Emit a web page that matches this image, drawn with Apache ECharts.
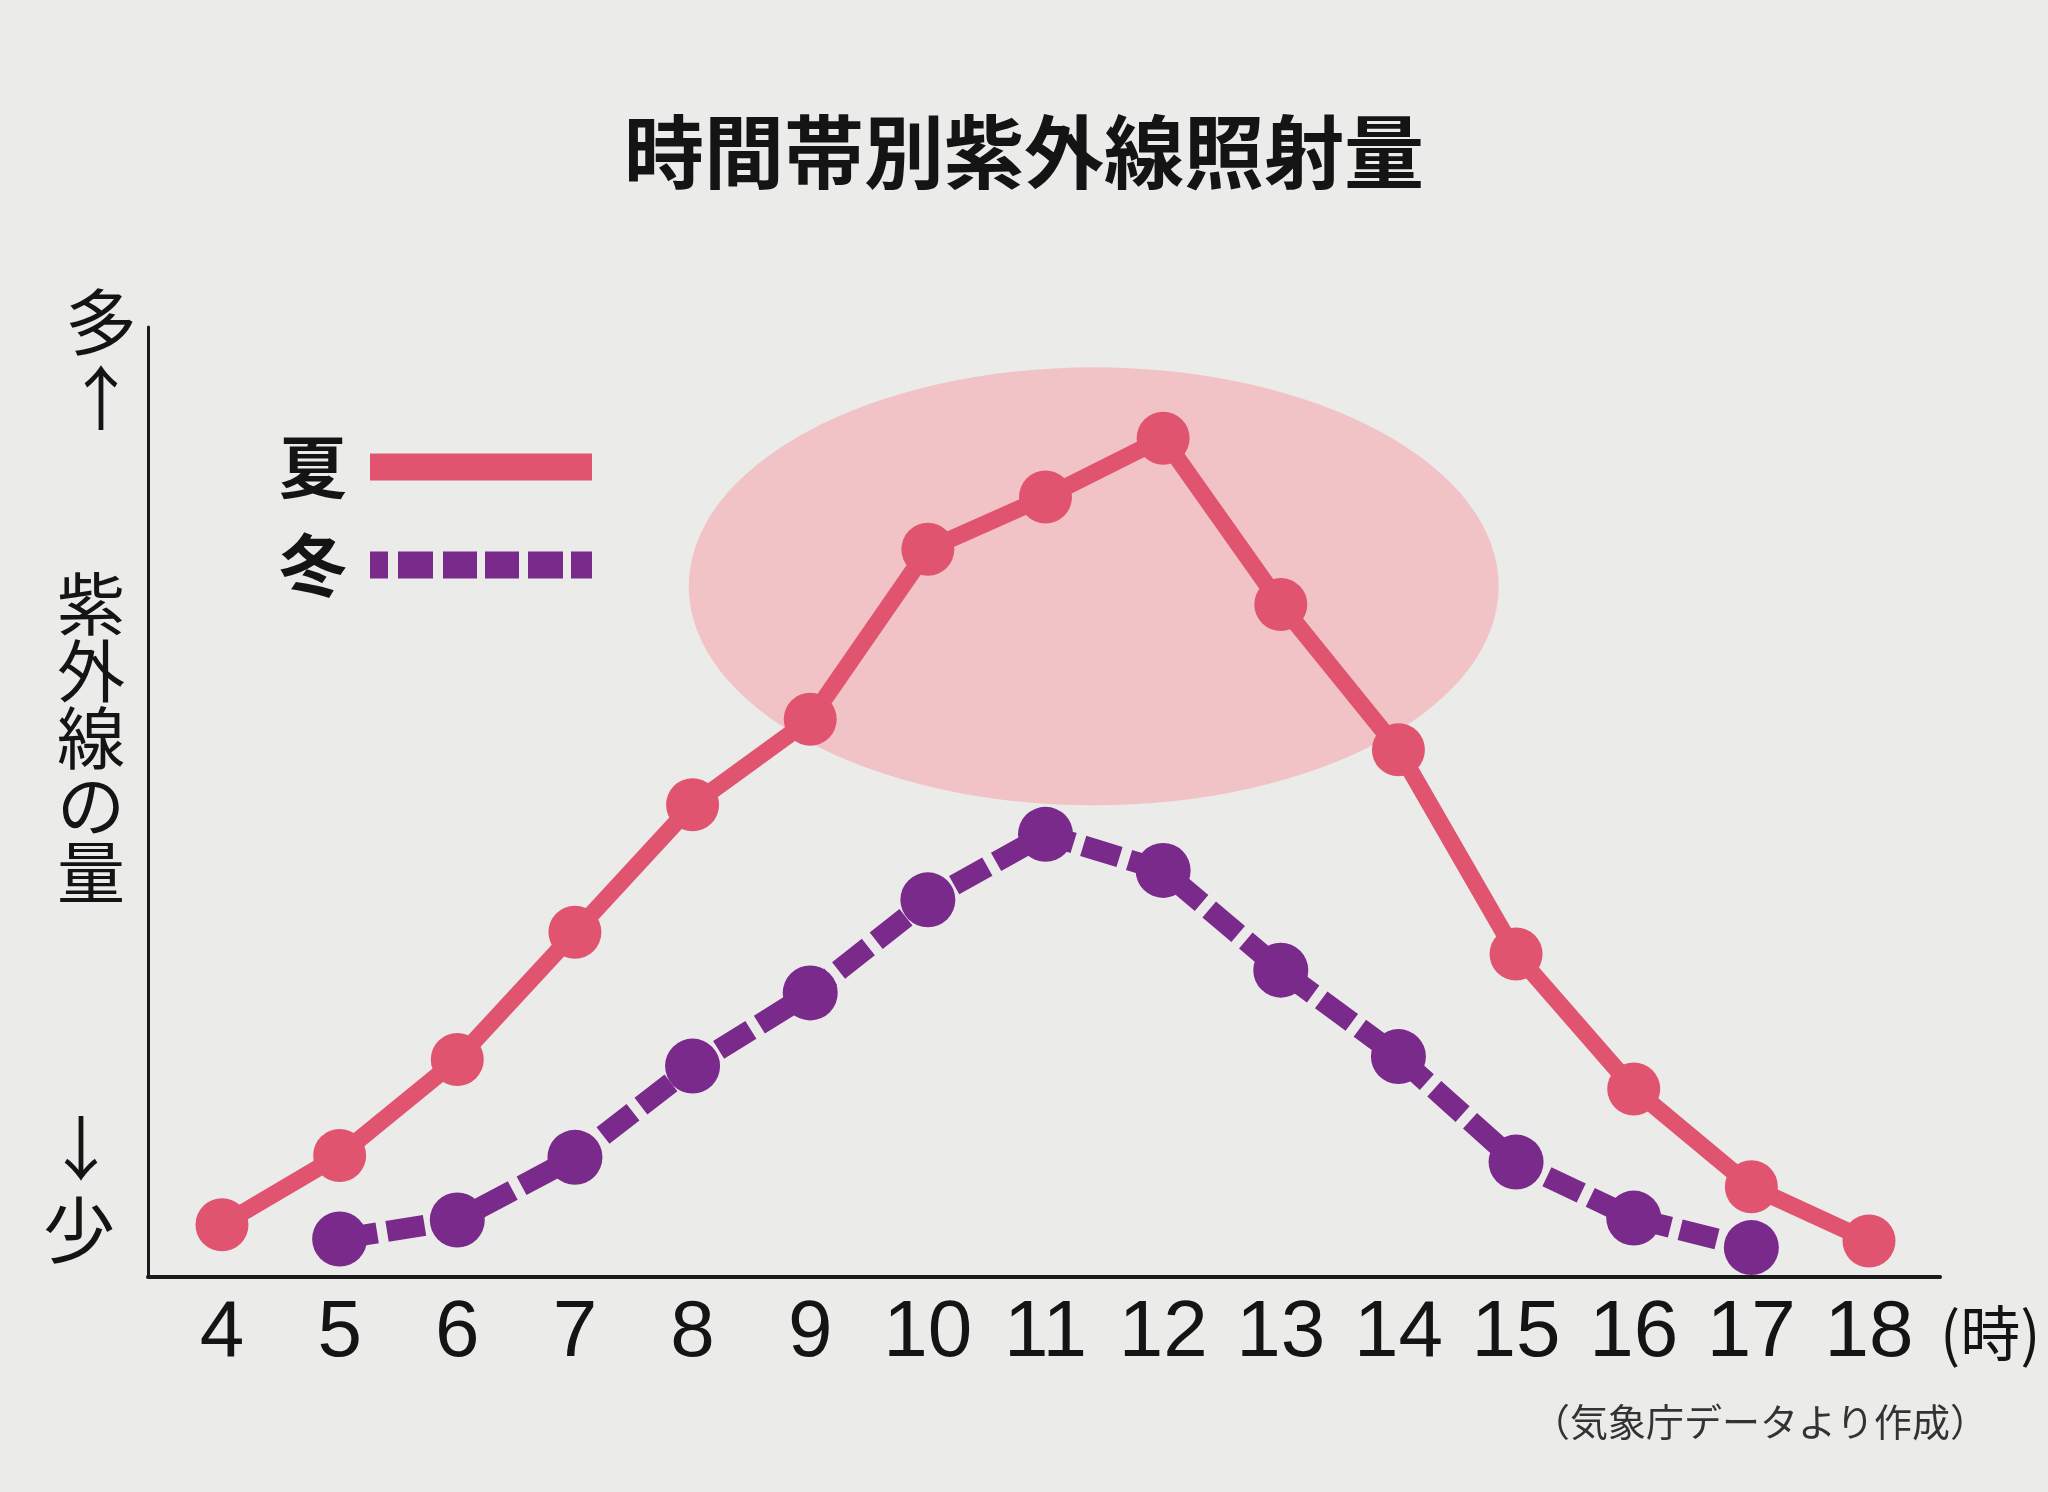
<!DOCTYPE html>
<html>
<head>
<meta charset="utf-8">
<script src="https://cdn.jsdelivr.net/npm/echarts@6/dist/echarts.min.js"></script>
<style>
html,body{margin:0;padding:0;background:#ebebe9;}
#chart{width:2048px;height:1492px;}
</style>
</head>
<body>
<div id="chart"></div>
<script>
// ---- data ----
const hours = [4, 5, 6, 7, 8, 9, 10, 11, 12, 13, 14, 15, 16, 17, 18];
const summerHours = [4, 5, 6, 7, 8, 9, 10, 11, 12, 13, 14, 15, 16, 17, 18];
const summerValues = [5.5, 12.8, 22.9, 36.3, 49.7, 58.7, 76.6, 82.1, 88.3, 70.8, 55.5, 34.0, 19.8, 9.5, 3.8];
const winterHours = [5, 6, 7, 8, 9, 10, 11, 12, 13, 14, 15, 16, 17];
const winterValues = [4.0, 6.0, 12.6, 22.2, 29.9, 39.7, 46.6, 42.8, 32.3, 23.2, 12.1, 6.2, 3.1];
const highlightCenter = [11.41, 72.7];
const seriesNames = ['夏', '冬'];
const titleText = '時間帯別紫外線照射量';
const xUnit = '(時)';
const sourceText = '（気象庁データより作成）';

const summerColor = '#e05470';
const winterColor = '#7a2a8a';
const ink = '#141414';
const cjk = '"Noto Sans CJK JP", "Noto Sans CJK SC", sans-serif';

const chart = echarts.init(document.getElementById('chart'), null, {renderer: 'canvas'});

const option = {
  backgroundColor: '#ebebe9',
  animation: false,
  title: {
    text: titleText,
    left: 'center',
    top: 107,
    textStyle: {fontFamily: cjk, fontSize: 80, fontWeight: 'bold', color: ink, lineHeight: 80}
  },
  legend: {
    orient: 'vertical',
    left: 279,
    top: 433,
    padding: 0,
    align: 'right',
    itemWidth: 222,
    itemHeight: 27,
    itemGap: 30,
    selectedMode: false,
    itemStyle: {borderWidth: 0},
    textStyle: {fontFamily: cjk, fontSize: 68, fontWeight: 'bold', color: ink, lineHeight: 68, padding: [0, 18, 0, 0]},
    data: [
      {name: seriesNames[0], icon: 'rect'},
      {name: seriesNames[1], icon: 'path://M0 0h18v27h-18zM28 0h35v27h-35zM73 0h34v27h-34zM115 0h34v27h-34zM158 0h35v27h-35zM201 0h21v27h-21z'}
    ]
  },
  grid: {left: 148, right: 108, top: 327, bottom: 215, containLabel: false},
  xAxis: {
    type: 'value',
    min: 3.371,
    max: 18.6035,
    axisLine: {show: true, lineStyle: {color: '#1a1a1a', width: 4}},
    axisTick: {show: false},
    splitLine: {show: false},
    axisLabel: {
      customValues: hours,
      formatter: v => String(v),
      fontFamily: '"Liberation Sans Narrow", "Liberation Sans", sans-serif',
      fontSize: 80,
      color: ink,
      margin: 57,
      verticalAlign: 'middle'
    }
  },
  yAxis: {
    type: 'value',
    min: 0,
    max: 100,
    axisLine: {show: true, onZero: false, lineStyle: {color: '#1a1a1a', width: 3}},
    axisTick: {show: false},
    axisLabel: {show: false},
    splitLine: {show: false}
  },
  graphic: [
    {type: 'text', x: 101, y: 322, style: {text: '多', font: '400 72px ' + cjk, fill: ink, align: 'center', verticalAlign: 'middle'}},
    {type: 'text', x: 101, y: 398, style: {text: '↑', font: '400 70px ' + cjk, fill: ink, align: 'center', verticalAlign: 'middle'}},
    {type: 'text', x: 91, y: 738, style: {text: '紫\n外\n線\nの\n量', font: '400 68px ' + cjk, lineHeight: 67, fill: ink, align: 'center', verticalAlign: 'middle'}},
    {type: 'text', x: 81, y: 1148, style: {text: '↓', font: '400 70px ' + cjk, fill: ink, align: 'center', verticalAlign: 'middle'}},
    {type: 'text', x: 79, y: 1230, style: {text: '少', font: '400 72px ' + cjk, fill: ink, align: 'center', verticalAlign: 'middle'}},
    {type: 'text', x: 1940, y: 1333, style: {text: xUnit, font: '60px ' + cjk, fill: ink, align: 'left', verticalAlign: 'middle'}},
    {type: 'text', x: 1988, y: 1422, style: {text: sourceText, font: '38px ' + cjk, fill: '#333333', align: 'right', verticalAlign: 'middle'}}
  ],
  series: [
    {
      type: 'scatter',
      name: 'highlight',
      silent: true,
      z: 1,
      symbol: 'circle',
      symbolSize: [810, 438],
      itemStyle: {color: '#f1c3c7', opacity: 1},
      data: [highlightCenter]
    },
    {
      type: 'line',
      name: seriesNames[0],
      z: 3,
      color: summerColor,
      symbol: 'circle',
      symbolSize: 53,
      itemStyle: {color: summerColor, borderWidth: 0},
      lineStyle: {color: summerColor, width: 17, join: 'round'},
      data: summerHours.map((h, i) => [h, summerValues[i]])
    },
    {
      type: 'line',
      name: seriesNames[1],
      z: 4,
      color: winterColor,
      symbol: 'circle',
      symbolSize: 55,
      itemStyle: {color: winterColor, borderWidth: 0},
      lineStyle: {color: winterColor, width: 21, type: [38, 10], cap: 'butt'},
      data: winterHours.map((h, i) => [h, winterValues[i]])
    }
  ]
};
chart.setOption(option);
</script>
</body>
</html>
